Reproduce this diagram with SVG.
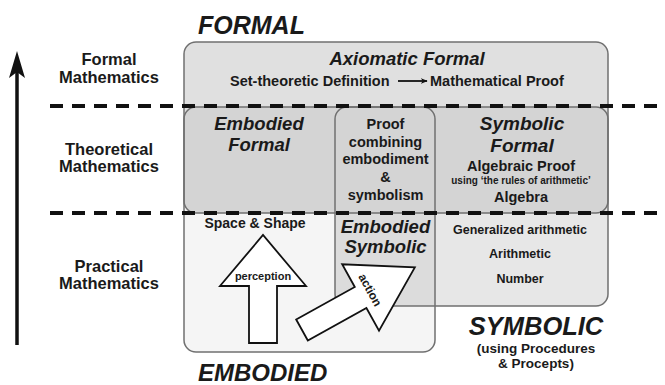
<svg xmlns="http://www.w3.org/2000/svg" width="665" height="385" viewBox="0 0 665 385">
<style>
text{font-family:"Liberation Sans",Arial,sans-serif;font-weight:bold;fill:#1a1a1a}
.it{font-style:italic}
.side{font-size:16.5px;text-anchor:middle}
.c{text-anchor:middle}
.box{fill:none;stroke:#707070;stroke-width:1.5}
.dash{stroke:#111;stroke-width:4;stroke-dasharray:13 9;fill:none}
.big{fill:#fff;stroke:#111;stroke-width:1.8;stroke-linejoin:miter}
</style>
<defs>
<marker id="ah" viewBox="0 0 10 10" refX="9" refY="5" markerWidth="7" markerHeight="7" markerUnits="userSpaceOnUse" orient="auto">
<path d="M0,1 L10,5 L0,9 L3,5 Z" fill="#111"/>
</marker>
</defs>
<rect width="665" height="385" fill="#fff"/>

<!-- axis arrow -->
<g id="axis">
<line x1="17" y1="66" x2="17" y2="345" stroke="#111" stroke-width="3.5"/>
<path d="M17,51 L9,78 L17,72 L25,78 Z" fill="#111"/>
<text class="side" x="109" y="65">Formal</text>
<text class="side" x="109" y="83">Mathematics</text>
<text class="side" x="109" y="155">Theoretical</text>
<text class="side" x="109" y="172">Mathematics</text>
<text class="side" x="109" y="272">Practical</text>
<text class="side" x="109" y="289">Mathematics</text>
</g>

<!-- fills -->
<g id="fills">
<rect x="184" y="107" width="251" height="245" rx="12" fill="#f5f5f5"/>
<rect x="335" y="107" width="273" height="199" rx="12" fill="#e7e7e7"/>
<path d="M335,107 H435 V306 H347 Q335,306 335,294 Z" fill="#dcdcdc"/>
<rect x="184" y="42" width="424" height="171" rx="12" fill="#e0e0e0"/>
<path d="M196,107 H596 Q608,107 608,119 V201 Q608,213 596,213 H196 Q184,213 184,201 V119 Q184,107 196,107 Z" fill="#000" fill-opacity="0.05"/>
</g>

<!-- formal world -->
<g id="formal">
<rect class="box" x="184" y="42" width="424" height="171" rx="12"/>
<text class="it" x="198" y="34" font-size="25">FORMAL</text>
<text class="it c" x="407" y="65" font-size="18.5">Axiomatic Formal</text>
<text x="230" y="86" font-size="14.5">Set-theoretic Definition</text>
<line x1="398" y1="81" x2="427" y2="81" stroke="#111" stroke-width="1.8" marker-end="url(#ah)"/>
<text x="430" y="86" font-size="14.5">Mathematical Proof</text>
</g>

<!-- embodied world -->
<g id="embodied">
<rect class="box" x="184" y="107" width="251" height="245" rx="12"/>
<text class="it c" x="259" y="130" font-size="18.5">Embodied</text>
<text class="it c" x="259" y="151" font-size="18.5">Formal</text>
<text class="c" x="255" y="228" font-size="14">Space &amp; Shape</text>
<text class="it" x="198" y="381" font-size="24">EMBODIED</text>
</g>

<!-- symbolic world -->
<g id="symbolic">
<rect class="box" x="335" y="107" width="273" height="199" rx="12"/>
<text class="it c" x="522" y="130" font-size="19">Symbolic</text>
<text class="it c" x="522" y="152" font-size="19">Formal</text>
<text class="c" x="521" y="171" font-size="14.5">Algebraic Proof</text>
<text class="c" x="521" y="184" font-size="10">using ‘the rules of arithmetic’</text>
<text class="c" x="521" y="202" font-size="14.5">Algebra</text>
<text class="c" x="520" y="234" font-size="12.5">Generalized arithmetic</text>
<text class="c" x="520" y="258" font-size="12.5">Arithmetic</text>
<text class="c" x="520" y="283" font-size="12.5">Number</text>
<text class="it c" x="536" y="335" font-size="25.5">SYMBOLIC</text>
<text class="c" x="536" y="353" font-size="13.5">(using Procedures</text>
<text class="c" x="536" y="368" font-size="13.5">&amp; Procepts)</text>
</g>

<!-- overlap -->
<g id="overlap">
<text class="c" x="385.5" y="129" font-size="14.5">Proof</text>
<text class="c" x="385.5" y="147" font-size="14.5">combining</text>
<text class="c" x="385.5" y="164" font-size="14.5">embodiment</text>
<text class="c" x="385.5" y="182" font-size="14.5">&amp;</text>
<text class="c" x="385.5" y="200" font-size="14.5">symbolism</text>
<text class="it c" x="385.5" y="233" font-size="18.5">Embodied</text>
<text class="it c" x="385.5" y="253" font-size="18.5">Symbolic</text>
</g>

<!-- levels -->
<g id="connectors">
<line class="dash" x1="50" y1="106" x2="665" y2="106"/>
<line class="dash" x1="50" y1="213" x2="665" y2="213"/>
</g>

<!-- perception arrow -->
<g id="perception">
<polygon class="big" points="249,343 249,286 220,286 263,235 306,286 277,286 277,343"/>
<text class="c" x="263" y="280" font-size="11">perception</text>
</g>

<!-- action arrow -->
<g id="action">
<polygon class="big" transform="translate(302,330) rotate(-29)" points="0,-12 67,-12 67,-38 129,0 67,38 67,12 0,12"/>
<text class="c" transform="translate(370,290) rotate(61)" x="0" y="4" font-size="12">action</text>
</g>
</svg>
